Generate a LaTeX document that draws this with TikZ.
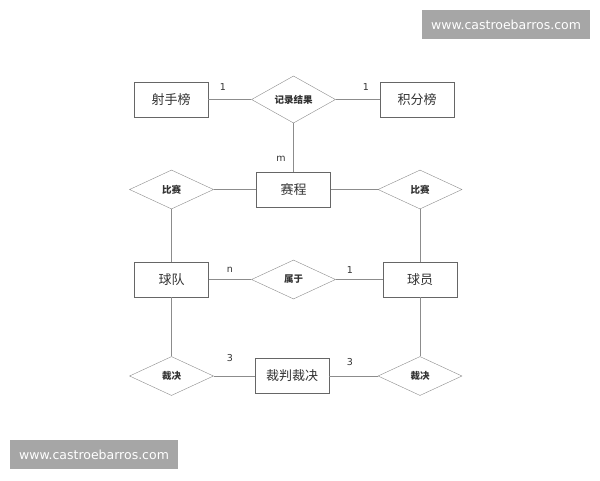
\documentclass[tikz,border=0pt]{standalone}
\usepackage{fontspec}
\setmainfont{DejaVu Sans}
\newfontfamily\cjk{Noto Sans CJK SC}
\usetikzlibrary{shapes.geometric}
\definecolor{boxline}{HTML}{666666}
\definecolor{linkline}{HTML}{8C8C8C}
\definecolor{txt}{HTML}{333333}
\definecolor{wmgray}{HTML}{A6A6A6}

\begin{document}
\begin{tikzpicture}[x=1pt, y=-1pt,
    entity/.style={rectangle, draw=boxline, fill=white, minimum width=74pt, minimum height=35pt, inner sep=0pt, text=txt, font=\cjk\fontsize{13}{13}\selectfont},
    relation/.style={diamond, draw=linkline, fill=white, minimum width=84pt, minimum height=39pt, inner sep=0pt, text=txt, font=\cjk\bfseries\fontsize{9.5}{9.5}\selectfont},
    card/.style={text=txt, inner sep=0pt, font=\fontsize{9.5}{9.5}\selectfont},
    wmbox/.style={rectangle, fill=wmgray, text=white, minimum height=29pt, minimum width=168pt, inner sep=0pt, font=\fontsize{12.5}{12.5}\selectfont}]
    \useasboundingbox (0,0) rectangle (600,480);
    % 上方
    \node[entity] (sheshou) at (171,99.5) {射手榜};
    \node[relation] (jilu) at (293.5,99.5) {记录结果};
    \node[entity] (jifen) at (417,99.5) {积分榜};
    % 中间
    \node[relation] (bisaiL) at (171.5,189.5) {比赛};
    \node[entity] (saicheng) at (293.5,189.5) {赛程};
    \node[relation] (bisaiR) at (420,189.5) {比赛};
    \node[entity] (qiudui) at (171.5,279.5) {球队};
    \node[relation] (shuyu) at (293.5,279.5) {属于};
    \node[entity] (qiuyuan) at (420,279.5) {球员};
    % 下方
    \node[relation] (caijueL) at (171.5,376) {裁决};
    \node[entity] (caipan) at (292,376) {裁判裁决};
    \node[relation] (caijueR) at (420,376) {裁决};
    % 连线
    \draw[linkline] (sheshou) -- (jilu);
    \draw[linkline] (jilu) -- (jifen);
    \draw[linkline] (jilu) -- (saicheng);
    \draw[linkline] (bisaiL) -- (saicheng);
    \draw[linkline] (saicheng) -- (bisaiR);
    \draw[linkline] (bisaiL) -- (qiudui);
    \draw[linkline] (bisaiR) -- (qiuyuan);
    \draw[linkline] (qiudui) -- (shuyu);
    \draw[linkline] (shuyu) -- (qiuyuan);
    \draw[linkline] (qiudui) -- (caijueL);
    \draw[linkline] (qiuyuan) -- (caijueR);
    \draw[linkline] (caijueL) -- (caipan);
    \draw[linkline] (caipan) -- (caijueR);
    % 基数
    \node[card] (c1) at (223,87) {1};
    \node[card] (c2) at (366,87) {1};
    \node[card] (c3) at (281,159) {m};
    \node[card] (c4) at (230,270) {n};
    \node[card] (c5) at (350,270) {1};
    \node[card] (c6) at (230,358) {3};
    \node[card] (c7) at (350,362) {3};
    % 水印
    \node[wmbox] (wmtop) at (506,24.5) {www.castroebarros.com};
    \node[wmbox] (wmbot) at (94,454.5) {www.castroebarros.com};
\end{tikzpicture}
\end{document}
